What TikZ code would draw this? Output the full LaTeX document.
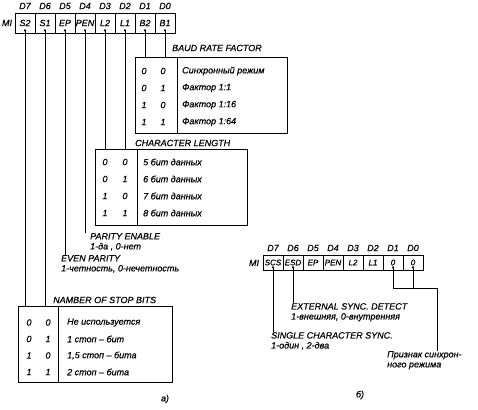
\documentclass[tikz,border=0pt]{standalone}
\usepackage{fontspec}
\setmainfont{Liberation Sans}[FakeBold=0.5]
\usetikzlibrary{positioning, calc}

\begin{document}
\begin{tikzpicture}[x=1pt, y=-1pt, font=\fontsize{9}{10}\selectfont\itshape,
  cell/.style={draw, thick, minimum width=20pt, minimum height=20pt, inner sep=0pt},
  cellb/.style={draw, thick, minimum width=20pt, minimum height=15pt, inner sep=0pt,
    font=\fontsize{8}{9}\selectfont\itshape},
  tbl/.style={draw, thick, anchor=north west, inner sep=0pt},
  lbl/.style={inner sep=0pt, anchor=north west, align=left},
  ttl/.style={inner sep=0pt, anchor=west},
  wire/.style={semithick}]
  \useasboundingbox (0,0) rectangle (478,409);

  % register a)
  \node[inner sep=0pt] (mia) at (7,23) {MI};
  \foreach \t [count=\i from 0] in {S2,S1,EP,PEN,L2,L1,B2,B1} {
    \pgfmathtruncatemacro\d{7-\i}
    \node[cell] (ra\i) at (25+20*\i,23) {\t};
    \node[inner sep=0pt] (da\i) at (25+20*\i,6) {D\d};
    \coordinate (pa\i) at ($(ra\i.south)+(0,-3)$);
    \fill (pa\i) circle (1.2pt);
  }

  % baud rate factor
  \node[ttl] (baudt) at (172,48) {BAUD RATE FACTOR};
  \node[tbl, minimum width=152pt, minimum height=76pt] (baud) at (135,57) {};
  \draw[thick] ([xshift=42pt]baud.north west) -- ([xshift=42pt]baud.south west);
  \foreach \a/\b/\t [count=\i] in {0/0/Синхронный режим,0/1/Фактор 1:1,1/0/Фактор 1:16,1/1/Фактор 1:64} {
    \node[inner sep=0pt] (bda\i) at (144,54+17*\i) {\a};
    \node[inner sep=0pt] (bdb\i) at (163,54+17*\i) {\b};
    \node[ttl] (bdt\i) at (182,54+17*\i) {\t};
  }

  % character length
  \node[ttl] (chrt) at (135,143) {CHARACTER LENGTH};
  \node[tbl, minimum width=152pt, minimum height=76pt] (chr) at (95,149) {};
  \draw[thick] ([xshift=42pt]chr.north west) -- ([xshift=42pt]chr.south west);
  \foreach \a/\b/\t [count=\i] in {0/0/5 бит данных,0/1/6 бит данных,1/0/7 бит данных,1/1/8 бит данных} {
    \node[inner sep=0pt] (cha\i) at (105,145+17*\i) {\a};
    \node[inner sep=0pt] (chb\i) at (125,145+17*\i) {\b};
    \node[ttl] (cht\i) at (143,145+17*\i) {\t};
  }

  % parity
  \node[lbl] (pe) at (90,233) {PARITY ENABLE\\1-да , 0-нет};
  \node[lbl] (evp) at (61,255) {EVEN PARITY\\1-четность, 0-нечетность};

  % stop bits
  \node[ttl] (stopt) at (53,300) {NAMBER OF STOP BITS};
  \node[tbl, minimum width=154pt, minimum height=76pt] (stop) at (18,306) {};
  \draw[thick] ([xshift=40pt]stop.north west) -- ([xshift=40pt]stop.south west);
  \foreach \a/\b/\t [count=\i] in {0/0/Не используется,0/1/1 стоп -- бит,1/0/1{,}5 стоп -- бита,1/1/2 стоп -- бита} {
    \node[inner sep=0pt] (sta\i) at (29,306+16.5*\i) {\a};
    \node[inner sep=0pt] (stb\i) at (48,306+16.5*\i) {\b};
    \node[ttl] (stt\i) at (67,306+16.5*\i) {\t};
  }

  \draw[wire] (pa0) -- (pa0 |- stop.north);
  \draw[wire] (pa1) -- (pa1 |- stop.north);
  \draw[wire] (pa2) -- (pa2 |- evp.north);
  \draw[wire] (pa3) -- (pa3 |- pe.north);
  \draw[wire] (pa4) -- (pa4 |- chr.north);
  \draw[wire] (pa5) -- (pa5 |- chr.north);
  \draw[wire] (pa6) -- (pa6 |- baud.north);
  \draw[wire] (pa7) -- (pa7 |- baud.north);

  \node[inner sep=0pt] (capa) at (165,399) {а)};

  % register b)
  \node[inner sep=0pt] (mib) at (254,263) {MI};
  \foreach \t [count=\i from 0] in {SCS,ESD,EP,PEN,L2,L1,0,0} {
    \pgfmathtruncatemacro\d{7-\i}
    \node[cellb] (rb\i) at (273+20*\i,262.5) {\t};
    \node[inner sep=0pt] (db\i) at (273+20*\i,248) {D\d};
    \coordinate (pb\i) at ($(rb\i.south)+(0,-3)$);
  }
  \foreach \i in {0,1,6,7} \fill (pb\i) circle (1.2pt);

  \node[lbl] (esd) at (291,303) {EXTERNAL SYNC. DETECT\\1-внешняя, 0-внутренняя};
  \node[lbl] (scs) at (271,332) {SINGLE CHARACTER SYNC.\\1-один , 2-два};
  \node[lbl] (sync) at (387,351) {Признак синхрон-\\ного режима};
  \coordinate (jn) at (437,288);

  \draw[wire] (pb0) -- (pb0 |- scs.north);
  \draw[wire] (pb1) -- (pb1 |- esd.north);
  \draw[wire] (pb6) |- (jn) -- (jn |- sync.north);
  \draw[wire] (pb7) -- (pb7 |- jn);

  \node[inner sep=0pt] (capb) at (360,395) {б)};
\end{tikzpicture}
\end{document}
